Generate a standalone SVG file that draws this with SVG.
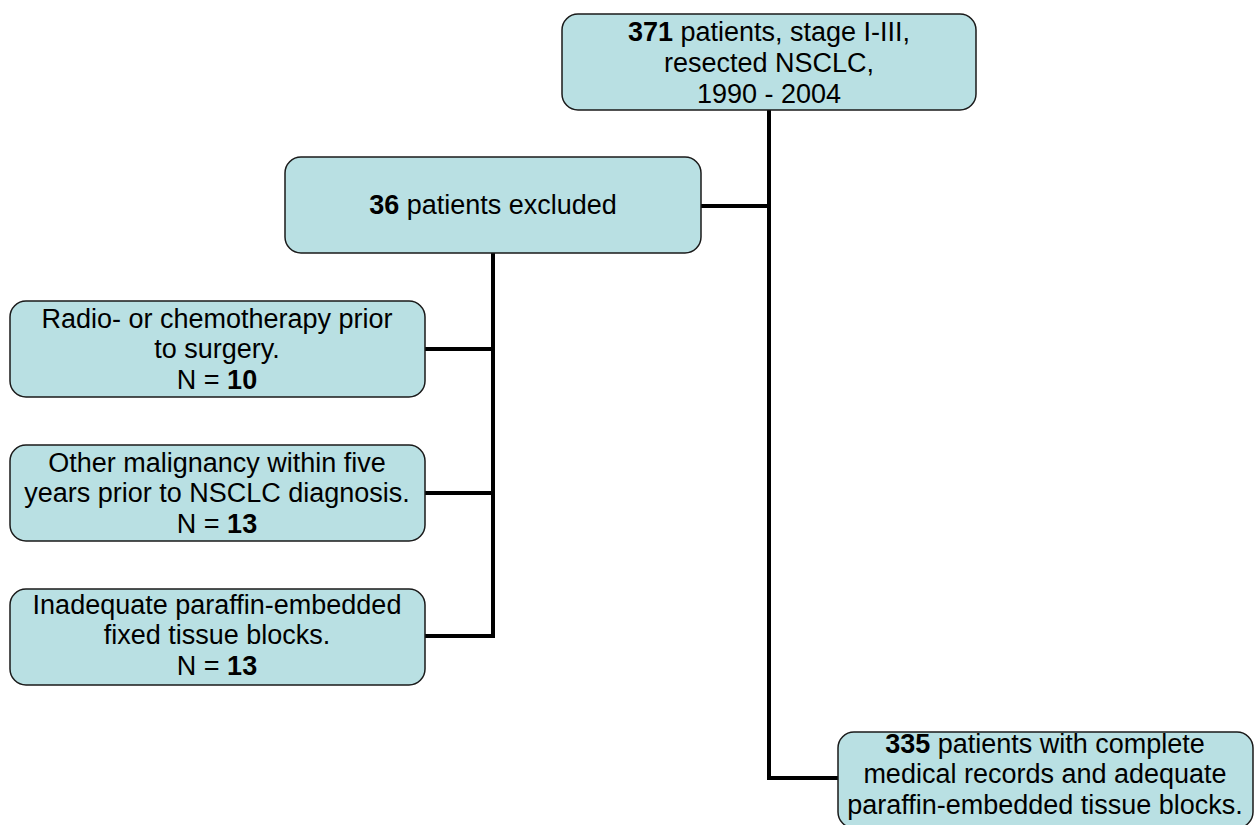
<svg xmlns="http://www.w3.org/2000/svg" width="1259" height="825" viewBox="0 0 1259 825">
<style>
.box{fill:#B9E0E3;stroke:#1a1a1a;stroke-width:1.5}
.t{font-family:"Liberation Sans",Arial,sans-serif;font-size:27px;fill:#000;text-anchor:middle}
.b{font-weight:bold}
.c{stroke:#000;stroke-width:4;fill:none}
</style>
<rect width="1259" height="825" fill="#fff"/>
<g id="connectors">
<polyline class="c" points="769,110 769,778 838,778"/>
<line class="c" x1="701" y1="206" x2="771" y2="206"/>
<polyline class="c" points="425,349 493,349"/>
<polyline class="c" points="493,253 493,636 425,636"/>
<line class="c" x1="425" y1="493" x2="495" y2="493"/>
</g>
<g id="n_total">
<rect class="box" x="562" y="14" width="414" height="96" rx="16"/>
<text class="t" x="769" y="41"><tspan class="b">371</tspan> patients, stage I-III,</text>
<text class="t" x="769" y="72">resected NSCLC,</text>
<text class="t" x="769" y="103">1990 - 2004</text>
</g>
<g id="n_excluded">
<rect class="box" x="285" y="157" width="416" height="96" rx="16"/>
<text class="t" x="493" y="214"><tspan class="b">36</tspan> patients excluded</text>
</g>
<g id="n_radio">
<rect class="box" x="10" y="301" width="415" height="96" rx="16"/>
<text class="t" x="217" y="328">Radio- or chemotherapy prior</text>
<text class="t" x="217" y="358">to surgery.</text>
<text class="t" x="217" y="389">N = <tspan class="b">10</tspan></text>
</g>
<g id="n_other">
<rect class="box" x="10" y="445" width="415" height="96" rx="16"/>
<text class="t" x="217" y="472">Other malignancy within five</text>
<text class="t" x="217" y="502">years prior to NSCLC diagnosis.</text>
<text class="t" x="217" y="533">N = <tspan class="b">13</tspan></text>
</g>
<g id="n_inadequate">
<rect class="box" x="10" y="589" width="415" height="96" rx="16"/>
<text class="t" x="217" y="614">Inadequate paraffin-embedded</text>
<text class="t" x="217" y="644">fixed tissue blocks.</text>
<text class="t" x="217" y="675">N = <tspan class="b">13</tspan></text>
</g>
<g id="n_included">
<rect class="box" x="838" y="732" width="415" height="96" rx="16"/>
<text class="t" x="1045" y="753"><tspan class="b">335</tspan> patients with complete</text>
<text class="t" x="1045" y="783">medical records and adequate</text>
<text class="t" x="1045" y="814">paraffin-embedded tissue blocks.</text>
</g>
</svg>
